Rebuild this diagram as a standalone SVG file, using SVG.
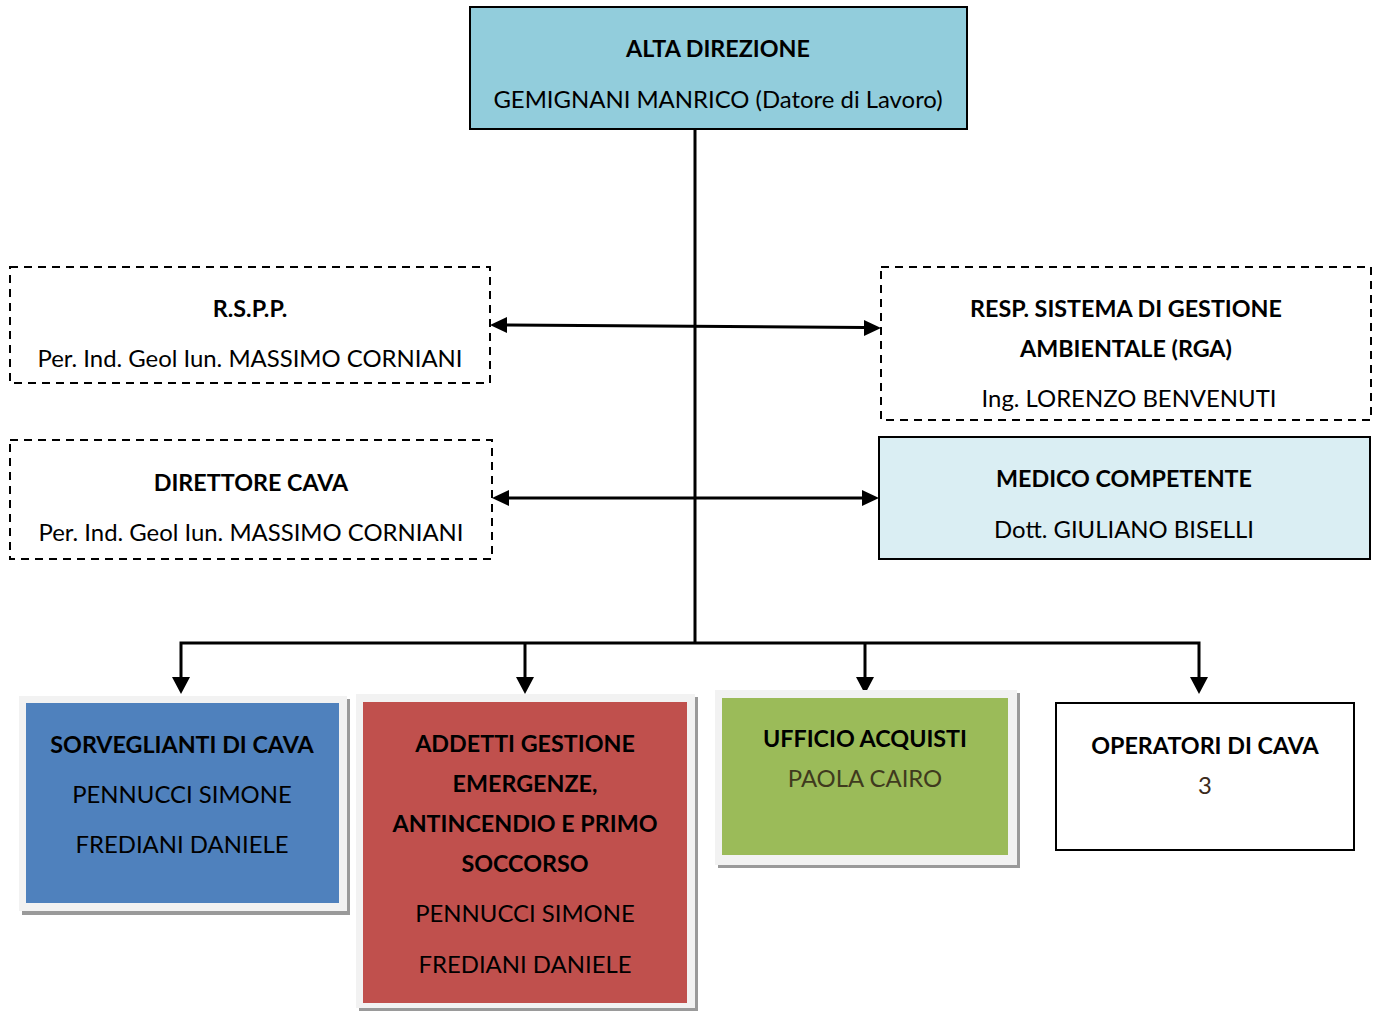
<svg xmlns="http://www.w3.org/2000/svg" width="1379" height="1011" viewBox="0 0 1379 1011">
<style>
text{font-family:Lato,"Liberation Sans",sans-serif;font-size:23.9px;text-anchor:middle;fill:#000}
.b{font-weight:bold;font-size:23.3px}
.dash{fill:#fff;stroke:#000;stroke-width:2;stroke-dasharray:8,6}
.solid{stroke:#000;stroke-width:2}
.line{fill:none;stroke:#000;stroke-width:3}
.frame{fill:#F2F2F2}
.shadow{fill:#9a9a9a}
</style>
<rect width="1379" height="1011" fill="#fff"/>
<g id="connectors">
<line class="line" x1="695" y1="129" x2="695" y2="643"/>
<line class="line" x1="506" y1="325" x2="865" y2="327.5"/>
<line class="line" x1="508" y1="498" x2="863" y2="498"/>
<polyline class="line" points="181,677 181,643 1199,643 1199,677"/>
<line class="line" x1="525" y1="643" x2="525" y2="677"/>
<line class="line" x1="865" y1="643" x2="865" y2="677"/>
<path d="M490,325 L507,317 L507,333 z M881,328 L864,320 L864,336 z M492,498 L509,490 L509,506 z M879,498 L862,490 L862,506 z M172,677 L190,677 L181,694 z M516,677 L534,677 L525,694 z M856,677 L874,677 L865,694 z M1190,677 L1208,677 L1199,694 z" fill="#000"/>
</g>
<g id="alta-direzione">
<rect x="470" y="7" width="497" height="122" fill="#92CDDC" class="solid"/>
<text class="b" x="718" y="57">ALTA DIREZIONE</text>
<text x="718" y="108">GEMIGNANI MANRICO (Datore di Lavoro)</text>
</g>
<g id="rspp">
<rect class="dash" x="10" y="267" width="480" height="116"/>
<text class="b" x="250" y="317">R.S.P.P.</text>
<text x="250" y="367">Per. Ind. Geol Iun. MASSIMO CORNIANI</text>
</g>
<g id="rga">
<rect class="dash" x="881" y="267" width="490" height="153"/>
<text class="b" x="1126" y="317">RESP. SISTEMA DI GESTIONE</text>
<text class="b" x="1126" y="357">AMBIENTALE (RGA)</text>
<text x="1129" y="407">Ing. LORENZO BENVENUTI</text>
</g>
<g id="direttore-cava">
<rect class="dash" x="10" y="440" width="482" height="119"/>
<text class="b" x="251" y="491">DIRETTORE CAVA</text>
<text x="251" y="541">Per. Ind. Geol Iun. MASSIMO CORNIANI</text>
</g>
<g id="medico">
<rect x="879" y="437" width="491" height="122" fill="#DAEEF3" class="solid"/>
<text class="b" x="1124" y="487">MEDICO COMPETENTE</text>
<text x="1124" y="538">Dott. GIULIANO BISELLI</text>
</g>
<g id="sorveglianti">
<rect class="shadow" x="22" y="699" width="328" height="216"/>
<rect class="frame" x="19" y="696" width="328" height="215"/>
<rect x="26" y="703" width="313" height="200" fill="#4F81BD"/>
<text class="b" x="182" y="753">SORVEGLIANTI DI CAVA</text>
<text x="182" y="803">PENNUCCI SIMONE</text>
<text x="182" y="853">FREDIANI DANIELE</text>
</g>
<g id="addetti">
<rect class="shadow" x="359" y="697" width="339" height="314"/>
<rect class="frame" x="356" y="694" width="339" height="314"/>
<rect x="363" y="702" width="324" height="301" fill="#C0504D"/>
<text class="b" x="525" y="752">ADDETTI GESTIONE</text>
<text class="b" x="525" y="792">EMERGENZE,</text>
<text class="b" x="525" y="832">ANTINCENDIO E PRIMO</text>
<text class="b" x="525" y="872">SOCCORSO</text>
<text x="525" y="922">PENNUCCI SIMONE</text>
<text x="525" y="973">FREDIANI DANIELE</text>
</g>
<g id="ufficio-acquisti">
<rect class="shadow" x="718" y="693" width="302" height="175"/>
<rect class="frame" x="715" y="690" width="302" height="175"/>
<rect x="722" y="698" width="286" height="157" fill="#9BBB59"/>
<text class="b" x="865" y="747">UFFICIO ACQUISTI</text>
<text x="865" y="787" style="fill:#3F3A1E">PAOLA CAIRO</text>
</g>
<g id="operatori">
<rect x="1056" y="703" width="298" height="147" fill="#fff" class="solid"/>
<text class="b" x="1205" y="754">OPERATORI DI CAVA</text>
<text x="1205" y="794" style="fill:#3B2A1A">3</text>
</g>
</svg>
